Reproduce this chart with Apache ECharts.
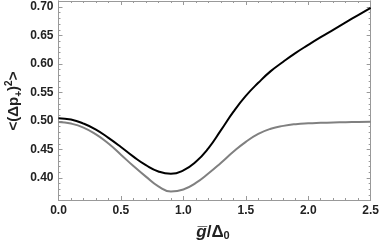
<!DOCTYPE html>
<html><head><meta charset="utf-8">
<script src="https://cdn.jsdelivr.net/npm/echarts@6/dist/echarts.min.js"></script>
<style>html,body{margin:0;padding:0;background:#fff}#c{width:382px;height:245px}</style>
</head><body><div id="c"></div>
<script>
const xValues = [0.0,0.1,0.2,0.3,0.4,0.5,0.6,0.7,0.8,0.9,1.0,1.1,1.2,1.3,1.4,1.5,1.6,1.7,1.8,1.9,2.0,2.1,2.2,2.3,2.4,2.5];
const blackSeries = [0.505,0.5025,0.4955,0.485,0.4705,0.4545,0.4375,0.4225,0.4115,0.4075,0.4135,0.4285,0.452,0.4835,0.516,0.544,0.567,0.5875,0.604,0.6195,0.6335,0.647,0.66,0.673,0.6858,0.6985];
const graySeries = [0.4985,0.4955,0.4885,0.4765,0.4605,0.441,0.421,0.4025,0.3855,0.3765,0.380,0.3915,0.408,0.4265,0.446,0.4635,0.4775,0.4865,0.4915,0.4945,0.496,0.4968,0.4974,0.4979,0.4984,0.4988];
const yMajorTicks = [0.40,0.45,0.50,0.55,0.60,0.65,0.70];
const yMinorTicks = [0.37,0.38,0.39,0.41,0.42,0.43,0.44,0.46,0.47,0.48,0.49,0.51,0.52,0.53,0.54,0.56,0.57,0.58,0.59,0.61,0.62,0.63,0.64,0.66,0.67,0.68,0.69,0.71];
const Y_MIN = 0.3615, Y_MAX = 0.7105;

const frame = '#999';
const labelFont = {fontFamily:'Liberation Sans', fontWeight:'bold', fontSize:12, color:'#222'};
const pair = a => xValues.map((x,i)=>[x,a[i]]);

function yAx(opts){
  return Object.assign({type:'value', min:Y_MIN, max:Y_MAX, splitLine:{show:false},
    axisLine:{show:true, lineStyle:{color:frame, width:1}}}, opts);
}
const chart = echarts.init(document.getElementById('c'), null, {renderer:'canvas'});
chart.setOption({
  animation:false,
  grid:{left:58.5, right:9, top:1, bottom:45},
  xAxis:[
    {type:'value', min:0, max:2.5, interval:0.5, position:'bottom',
     axisLine:{lineStyle:{color:frame}}, splitLine:{show:false},
     axisTick:{inside:true, length:4, lineStyle:{color:frame}},
     minorTick:{show:true, splitNumber:5, length:2, lineStyle:{color:frame}},
     axisLabel:Object.assign({margin:5, formatter:v=>v.toFixed(1)}, labelFont)},
    {type:'value', min:0, max:2.5, interval:0.5, position:'top',
     axisLine:{lineStyle:{color:frame}}, splitLine:{show:false},
     axisTick:{inside:true, length:4, lineStyle:{color:frame}},
     minorTick:{show:true, splitNumber:5, length:2, lineStyle:{color:frame}},
     axisLabel:{show:false}}
  ],
  yAxis:[
    yAx({position:'left',
      axisTick:{inside:true, length:4, customValues:yMajorTicks, lineStyle:{color:frame}},
      axisLabel:Object.assign({margin:5, customValues:yMajorTicks, formatter:v=>v.toFixed(2)}, labelFont)}),
    yAx({position:'left',
      axisTick:{inside:true, length:2, customValues:yMinorTicks, lineStyle:{color:frame}},
      axisLabel:{show:false}}),
    yAx({position:'right',
      axisTick:{inside:true, length:4, customValues:yMajorTicks, lineStyle:{color:frame}},
      axisLabel:{show:false}}),
    yAx({position:'right',
      axisTick:{inside:true, length:2, customValues:yMinorTicks, lineStyle:{color:frame}},
      axisLabel:{show:false}})
  ],
  series:[
    {type:'line', data:pair(graySeries), smooth:0.5, showSymbol:false, lineStyle:{color:'#808080', width:2}},
    {type:'line', data:pair(blackSeries), smooth:0.5, showSymbol:false, lineStyle:{color:'#000', width:2}}
  ],
  graphic:[
    {type:'text', x:213, y:232,
     style:{x:0, y:0, align:'center', verticalAlign:'middle',
       text:'{g|g\u0305}{n|/\u0394}{s|0}',
       rich:{g:{fontFamily:'Liberation Sans', fontStyle:'italic', fontWeight:'bold', fontSize:17, fill:'#222'},
             n:{fontFamily:'Liberation Sans', fontWeight:'bold', fontSize:17, fill:'#222'},
             s:{fontFamily:'Liberation Sans', fontWeight:'bold', fontSize:11, fill:'#222', padding:[8,0,0,0]}}}},
    {type:'text', rotation:Math.PI/2, x:14, y:101,
     style:{x:0, y:0, align:'center', verticalAlign:'middle',
       text:'{n|<(\u0394p}{b|+}{n|)}{p|2}{n|>}',
       rich:{n:{fontFamily:'Liberation Sans', fontWeight:'bold', fontSize:15, fill:'#222'},
             b:{fontFamily:'Liberation Sans', fontWeight:'bold', fontSize:10, fill:'#222', padding:[10,0,0,0]},
             p:{fontFamily:'Liberation Sans', fontWeight:'bold', fontSize:10, fill:'#222', padding:[0,0,10,0]}}}}
  ]
});
</script></body></html>
